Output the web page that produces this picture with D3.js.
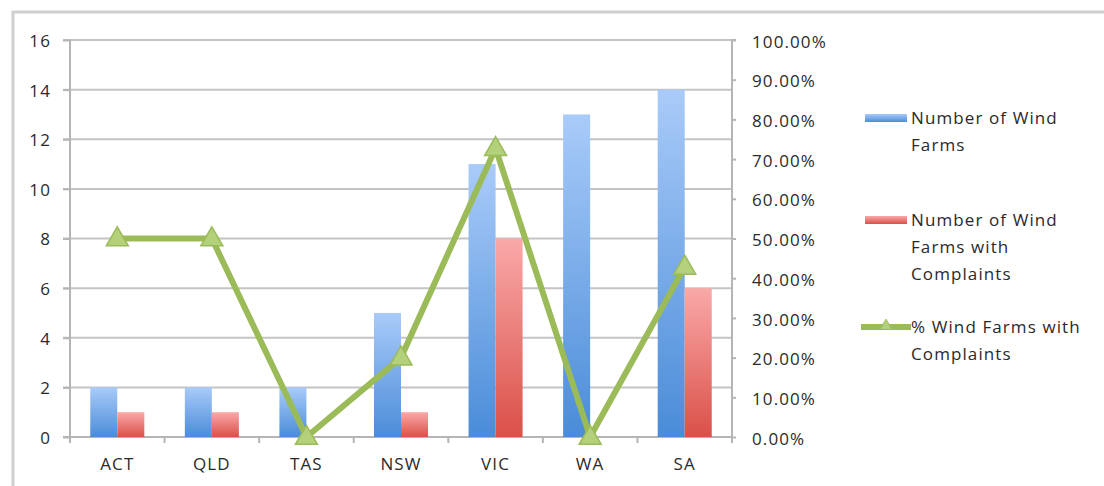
<!DOCTYPE html>
<html>
<head>
<meta charset="utf-8">
<script src="https://cdn.jsdelivr.net/npm/d3@7"></script>
<style>
  body { margin: 0; background: #fff; }
  text { font-family: "Open Sans", "DejaVu Sans", sans-serif; fill: #2a2a2a; letter-spacing: 1.1px; }
</style>
</head>
<body>
<div id="chart"></div>
<script>
"use strict"

// data
const states = ["ACT", "QLD", "TAS", "NSW", "VIC", "WA", "SA"];
const windFarms = [2, 2, 2, 5, 11, 13, 14];
const withComplaints = [1, 1, 0, 1, 8, 0, 6];
const pctComplaints = [0.5, 0.5, 0, 0.2, 0.7273, 0, 0.4286];
const leftTicks = [0, 2, 4, 6, 8, 10, 12, 14, 16];
const rightTicks = [0, 0.1, 0.2, 0.3, 0.4, 0.5, 0.6, 0.7, 0.8, 0.9, 1];
const seriesNames = [["Number of Wind", "Farms"], ["Number of Wind", "Farms with", "Complaints"], ["% Wind Farms with", "Complaints"]];

const W = 1104, H = 486;
const margin = {top: 40, right: 372, bottom: 49, left: 70};
const width = W - margin.left - margin.right,
  height = H - margin.top - margin.bottom;
const fontSize = "17px";

const svg = d3.select("#chart").append("svg")
  .attr("width", W).attr("height", H);

// outer frame
svg.append("path")
  .attr("d", "M13," + (H + 5) + "V12H" + (W + 5))
  .attr("fill", "none").attr("stroke", "#cfcfcf").attr("stroke-width", 3);

const defs = svg.append("defs");
const gradBlue = defs.append("linearGradient").attr("id", "gBlue")
  .attr("x1", 0).attr("y1", 0).attr("x2", 0).attr("y2", 1);
gradBlue.append("stop").attr("offset", "0%").attr("stop-color", "#a9cbf9");
gradBlue.append("stop").attr("offset", "100%").attr("stop-color", "#4a8cd8");
const gradRed = defs.append("linearGradient").attr("id", "gRed")
  .attr("x1", 0).attr("y1", 0).attr("x2", 0).attr("y2", 1);
gradRed.append("stop").attr("offset", "0%").attr("stop-color", "#f9a9a9");
gradRed.append("stop").attr("offset", "100%").attr("stop-color", "#da5048");

const g = svg.append("g")
  .attr("transform", "translate(" + margin.left + "," + margin.top + ")");

const x = d3.scaleBand().domain(states).range([0, width]);
const y = d3.scaleLinear().domain([0, 16]).range([height, 0]);
const y2 = d3.scaleLinear().domain([0, 1]).range([height, 0]);

// gridlines
g.append("g")
  .selectAll("line")
  .data(leftTicks.slice(1))
  .enter().append("line")
    .attr("x1", -7).attr("x2", width)
    .attr("y1", d => y(d)).attr("y2", d => y(d))
    .attr("stroke", "#c4c4c4").attr("stroke-width", 2);

// left axis
const yAxis = g.append("g")
  .call(d3.axisLeft(y).tickValues(leftTicks).tickSize(7).tickPadding(12));
yAxis.selectAll("line, path").attr("stroke", "#b5b5b5").attr("stroke-width", 2);
yAxis.select(".domain").attr("d", "M0," + height + "V" + y(16));
yAxis.selectAll("text").style("font-size", fontSize).style("fill", "#2a2a2a").attr("dy", "0.38em");

// right axis
const yAxis2 = g.append("g")
  .attr("transform", "translate(" + width + ",0)")
  .call(d3.axisRight(y2).tickValues(rightTicks).tickFormat(d3.format(".2%")).tickSize(4).tickPadding(16));
yAxis2.selectAll("line, path").attr("stroke", "#b5b5b5").attr("stroke-width", 2);
yAxis2.select(".domain").attr("d", "M0," + (height + 4) + "V" + y2(1) + "H4");
yAxis2.selectAll("text").style("font-size", fontSize).style("fill", "#2a2a2a").attr("dy", "0.42em");

// bottom axis
const xAxis = g.append("g")
  .attr("transform", "translate(0," + height + ")")
  .call(d3.axisBottom(x).tickSize(0).tickPadding(21));
xAxis.select(".domain").attr("d", "M-7,0H" + width).attr("stroke", "#b5b5b5").attr("stroke-width", 2);
xAxis.selectAll("text").style("font-size", fontSize).style("fill", "#2a2a2a");
g.append("g")
  .selectAll("line")
  .data(states)
  .enter().append("line")
    .attr("x1", d => x(d)).attr("x2", d => x(d))
    .attr("y1", height).attr("y2", height + 6)
    .attr("stroke", "#b5b5b5").attr("stroke-width", 2);
g.append("line")
  .attr("x1", width).attr("x2", width).attr("y1", height).attr("y2", height + 6)
  .attr("stroke", "#b5b5b5").attr("stroke-width", 2);

// bars, Excel gap width 150%
const barW = x.bandwidth() / 3.5;
const bars = g.append("g");
bars.selectAll(".blue")
  .data(states)
  .enter().append("rect")
    .attr("x", d => x(d) + x.bandwidth() / 2 - barW)
    .attr("y", (d, i) => y(windFarms[i]))
    .attr("width", barW)
    .attr("height", (d, i) => height - y(windFarms[i]))
    .attr("fill", "url(#gBlue)");
bars.selectAll(".red")
  .data(states)
  .enter().append("rect")
    .attr("x", d => x(d) + x.bandwidth() / 2)
    .attr("y", (d, i) => y(withComplaints[i]))
    .attr("width", barW)
    .attr("height", (d, i) => height - y(withComplaints[i]))
    .attr("fill", "url(#gRed)");

// percentage line
const line = d3.line()
  .x((d, i) => x(states[i]) + x.bandwidth() / 2)
  .y(d => y2(d));
g.append("path")
  .datum(pctComplaints)
  .attr("d", line)
  .attr("fill", "none")
  .attr("stroke", "#9bbb59")
  .attr("stroke-width", 6)
  .attr("stroke-linejoin", "miter");

const tri = d3.symbol().type(d3.symbolTriangle).size(210);
g.append("g")
  .selectAll("path")
  .data(pctComplaints)
  .enter().append("path")
    .attr("d", tri)
    .attr("transform", (d, i) => "translate(" + (x(states[i]) + x.bandwidth() / 2) + "," + (y2(d) + 1) + ")")
    .attr("fill", "#b3d07a")
    .attr("stroke", "#9bbb59")
    .attr("stroke-width", 1.5);

// legend
const legend = svg.append("g").attr("transform", "translate(865,0)");
const legY = [118, 220, 327];
legend.append("rect").attr("x", 0).attr("y", legY[0] - 4).attr("width", 42).attr("height", 8).attr("fill", "url(#gBlue)");
legend.append("rect").attr("x", 0).attr("y", legY[1] - 4).attr("width", 42).attr("height", 8).attr("fill", "url(#gRed)");
legend.append("line").attr("x1", -4).attr("x2", 46).attr("y1", legY[2]).attr("y2", legY[2])
  .attr("stroke", "#9bbb59").attr("stroke-width", 6);
legend.append("path").attr("d", d3.symbol().type(d3.symbolTriangle).size(60))
  .attr("transform", "translate(21," + (legY[2] - 1) + ")")
  .attr("fill", "#b3d07a").attr("stroke", "#9bbb59");

seriesNames.forEach((lines, k) => {
  const t = legend.append("text")
    .attr("x", 46).attr("y", legY[k])
    .style("font-size", fontSize).style("fill", "#2a2a2a");
  lines.forEach((s, j) => {
    t.append("tspan").attr("x", 46).attr("dy", j === 0 ? "0.35em" : 27).text(s);
  });
});
</script>
</body>
</html>
